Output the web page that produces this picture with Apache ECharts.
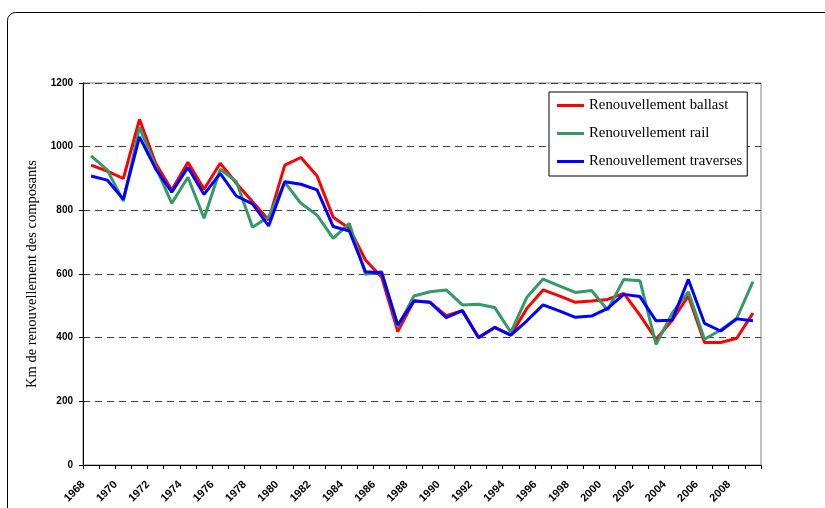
<!DOCTYPE html>
<html>
<head>
<meta charset="utf-8">
<script src="https://cdn.jsdelivr.net/npm/echarts@6/dist/echarts.min.js"></script>
<style>
  html, body { margin: 0; padding: 0; background: #fff; }
  #chart { width: 825px; height: 508px; }
</style>
</head>
<body>
<div id="chart"></div>
<script>
// années 1968 - 2009
const years = [];
for (let y = 1968; y <= 2009; y++) years.push(String(y));

const ballast = [942, 923, 900, 1086, 948, 864, 951, 866, 948, 885, 827, 770,
  942, 966, 908, 778, 743, 644, 590, 419, 516, 511, 469, 485,
  401, 432, 408, 492, 550, 531, 511, 515, 520, 539, 471, 395,
  455, 531, 385, 385, 398, 477];

const rail = [971, 927, 829, 1061, 937, 822, 904, 775, 929, 890, 747, 780,
  888, 822, 785, 712, 759, 599, 607, 434, 531, 544, 550, 503,
  505, 495, 417, 527, 584, 563, 542, 548, 487, 583, 579, 379,
  477, 544, 395, 424, 461, 576];

const traverses = [908, 895, 835, 1031, 930, 857, 935, 850, 916, 845, 820, 751,
  890, 882, 864, 749, 735, 607, 604, 440, 515, 511, 463, 485,
  400, 432, 408, 453, 503, 484, 464, 468, 492, 536, 529, 453,
  455, 583, 445, 421, 459, 453];

const seriesNames = ['Renouvellement ballast', 'Renouvellement rail', 'Renouvellement traverses'];
const seriesColors = ['#ff0000', '#339966', '#0000ff'];

const chart = echarts.init(document.getElementById('chart'));

function lineSerie(name, data, color) {
  return {
    name: name,
    type: 'line',
    data: data,
    showSymbol: false,
    symbol: 'none',
    color: color,
    lineStyle: { width: 3, color: color },
    animation: false
  };
}

const option = {
  animation: false,
  backgroundColor: '#fff',
  grid: {
    left: 83,
    right: 64,
    top: 83,
    bottom: 43,
    show: true,
    borderColor: '#808080',
    borderWidth: 1
  },
  graphic: [
    {
      type: 'rect',
      shape: { x: 7.5, y: 12.5, width: 900, height: 600, r: 8 },
      style: { fill: 'none', stroke: '#000', lineWidth: 1 },
      silent: true
    }
  ],
  legend: {
    orient: 'vertical',
    left: 549,
    top: 92,
    icon: 'rect',
    itemWidth: 27,
    itemHeight: 3,
    itemGap: 13,
    padding: [6, 5, 7, 8],
    borderColor: '#000',
    borderWidth: 1,
    backgroundColor: '#fff',
    textStyle: {
      fontFamily: '"Liberation Serif", "Times New Roman", serif',
      fontSize: 14.8,
      lineHeight: 14,
      color: '#000'
    },
    data: seriesNames
  },
  xAxis: {
    type: 'category',
    data: years,
    boundaryGap: true,
    axisLine: { lineStyle: { color: '#000', width: 1 } },
    axisTick: { show: true, interval: 0, length: 4, lineStyle: { color: '#000' } },
    axisLabel: {
      interval: 1,
      rotate: 45,
      margin: 10,
      padding: [0, 11, 0, 0],
      fontFamily: 'Arial, "Liberation Sans", sans-serif',
      fontWeight: 'bold',
      fontSize: 11,
      color: '#000'
    },
    splitLine: { show: false }
  },
  yAxis: {
    type: 'value',
    min: 0,
    max: 1200,
    interval: 200,
    name: 'Km de renouvellement des composants',
    nameLocation: 'middle',
    nameGap: 40,
    nameTextStyle: {
      fontFamily: '"Liberation Serif", "Times New Roman", serif',
      fontSize: 14.5,
      color: '#000'
    },
    axisLine: { show: true, lineStyle: { color: '#000', width: 1 } },
    axisTick: { show: true, length: 4, lineStyle: { color: '#000' } },
    axisLabel: {
      margin: 10,
      formatter: function (v) { return String(v); },
      fontFamily: 'Arial, "Liberation Sans", sans-serif',
      fontWeight: 'bold',
      fontSize: 10,
      color: '#000'
    },
    splitLine: {
      show: true,
      lineStyle: { color: '#404040', type: [7, 5], width: 1 }
    }
  },
  series: [
    lineSerie(seriesNames[0], ballast, seriesColors[0]),
    lineSerie(seriesNames[1], rail, seriesColors[1]),
    lineSerie(seriesNames[2], traverses, seriesColors[2])
  ]
};

chart.setOption(option);
</script>
</body>
</html>
